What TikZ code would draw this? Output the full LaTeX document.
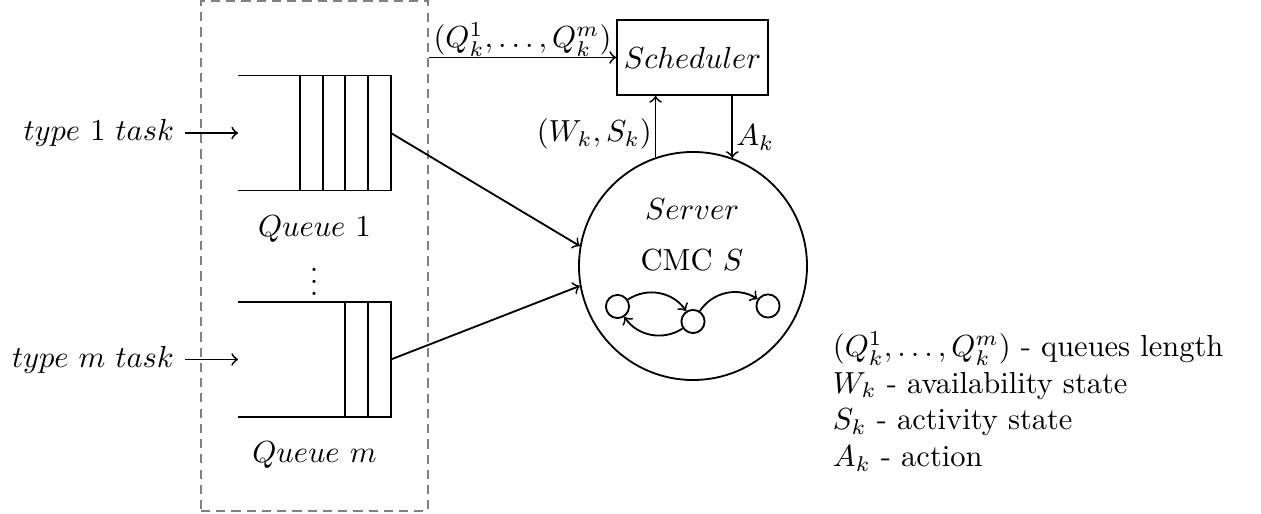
\documentclass[tikz,border=0pt]{standalone}
\usepackage{amsmath,amssymb}
\usepackage{tikz}
\usetikzlibrary{positioning}

\begin{document}
\begin{tikzpicture}[
    x=0.328pt, y=-0.328pt,
    semithick,
    node distance=4.5pt,
    arr/.style={->},
    queue/.style={minimum width=49.5pt, minimum height=37.1pt, inner sep=0pt},
    state/.style={draw, circle, minimum size=7.6pt, inner sep=0pt},
    group/.style={draw=gray, densely dashed, minimum width=74.5pt, minimum height=167.3pt, inner sep=0pt}
  ]
    \useasboundingbox (0,0) rectangle (1261,514);
    \node[group] (grp) at (314.5,256) {};
    \node[queue] (q1) at (314.5,133) {};
    \node[queue] (qm) at (314.5,359.5) {};
    \draw (q1.north west) -- (q1.north east) -- (q1.south east) -- (q1.south west);
    \foreach \i in {1,...,4}
      \draw ([xshift=-\i*7.46pt]q1.north east) -- ([xshift=-\i*7.46pt]q1.south east);
    \draw (qm.north west) -- (qm.north east) -- (qm.south east) -- (qm.south west);
    \foreach \i in {1,2}
      \draw ([xshift=-\i*7.46pt]qm.north east) -- ([xshift=-\i*7.46pt]qm.south east);
    \node[below=of q1] (lq1) {$Queue~1$};
    \node[below=of qm] (lqm) {$Queue~m$};
    \node (dots) at (314,273) {$\vdots$};
    \node[anchor=east] (t1) at (185,133) {$type~1~task$};
    \node[anchor=east] (tm) at (185,359.5) {$type~m~task$};
    \node[draw, circle, minimum size=74.8pt] (srv) at (693,266) {};
    \node[anchor=base] (srvt) at (692,220) {$Server$};
    \node[anchor=base] (cmc) at (692,271) {CMC $S$};
    \node[state] (s1) at (617.5,306.5) {};
    \node[state] (s2) at (693,321.5) {};
    \node[state] (s3) at (768,306) {};
    \node[draw, minimum width=49.5pt, minimum height=24.6pt, inner xsep=1.5pt] (sch) at (692.5,57.5) {$Scheduler$};
    \node[anchor=north west, align=left, inner sep=0pt] (legend) at (832,331) {$(Q_k^1,\ldots,Q_k^m)$ - queues length\\ $W_k$ - availability state\\ $S_k$ - activity state\\ $A_k$ - action};
    \draw[arr] (t1) -- (q1);
    \draw[arr] (tm) -- (qm);
    \draw[arr] (q1.east) -- (srv.170);
    \draw[arr] (qm.east) -- (srv.190);
    \draw[arr] (s1) to[bend left=45] (s2);
    \draw[arr] (s2) to[bend left=45] (s1);
    \draw[arr] (s2) to[bend left=45] (s3);
    \draw[arr] (grp.east |- sch.west) -- node[above, inner sep=0pt] {$(Q_k^1,\ldots,Q_k^m)$} (sch.west);
    \draw[arr] (srv.109.5) -- node[left, pos=0.38, inner sep=1pt] {$(W_k,S_k)$} (srv.109.5 |- sch.south);
    \draw[arr] (sch.south -| srv.70.5) -- node[right, pos=0.67, inner sep=1pt] {$A_k$} (srv.70.5);
  \end{tikzpicture}
\end{document}
